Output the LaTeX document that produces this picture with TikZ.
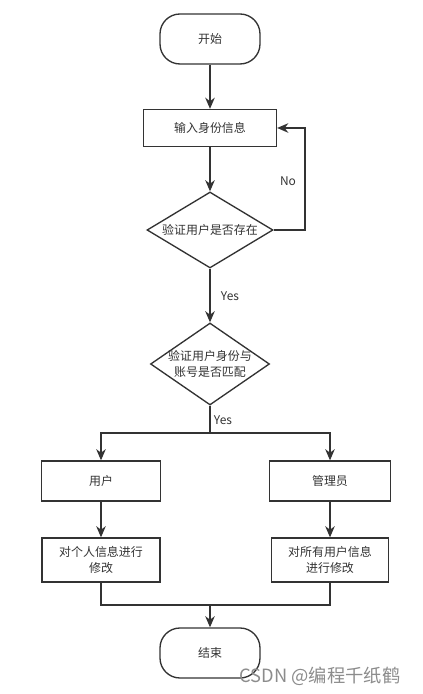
\documentclass[tikz,border=0pt]{standalone}
\usepackage{fontspec}
\newfontfamily\cjk{Noto Sans CJK SC}
\usetikzlibrary{shapes.geometric,arrows.meta}
\definecolor{linegray}{HTML}{333333}
\tikzset{
  terminal/.style={draw=linegray,rounded corners=0.5cm,minimum width=2.5cm,minimum height=1.25cm},
  process/.style={draw=linegray,minimum height=0.95cm,align=center,inner sep=1pt},
  decision/.style={draw=linegray,diamond,aspect=1.66,inner sep=0pt,align=center},
}
\begin{document}
\begin{tikzpicture}[>={Stealth[length=2.8mm,width=2.4mm]},line width=0.95pt,font=\cjk\fontsize{8.5}{11}\selectfont,text=black!80]
  \useasboundingbox[fill=white] (0,0) rectangle (10.575,17.35);

  % 节点
  \node[terminal] (start) at (5.25,16.375) {开始};
  \node[process,minimum width=3.325cm,minimum height=0.925cm] (input) at (5.25,14.15) {输入身份信息};
  \node[decision,minimum width=3.15cm,minimum height=1.9cm] (check) at (5.25,11.6) {验证用户是否存在};
  \node[decision,inner sep=-4pt,minimum width=2.975cm,minimum height=2.05cm] (match) at (5.25,8.25) {验证用户身份与\\账号是否匹配};
  \node[process,minimum width=2.975cm,minimum height=1.0cm] (user) at (2.525,5.325) {用户};
  \node[process,minimum width=3.025cm,minimum height=1.0cm] (admin) at (8.25,5.325) {管理员};
  \node[process,minimum width=2.95cm,minimum height=1.1cm] (selfedit) at (2.525,3.35) {对个人信息进行\\修改};
  \node[process,minimum width=2.925cm,minimum height=1.1cm] (alledit) at (8.25,3.35) {对所有用户信息\\进行修改};
  \node[terminal] (stop) at (5.25,1.025) {结束};

  % 转折点
  \coordinate (noturn) at (7.625,11.6);
  \coordinate (split) at (5.25,6.525);
  \coordinate (merge) at (5.25,2.225);

  % 连线
  \draw[->,linegray] (start) -- (input);
  \draw[->,linegray] (input) -- (check);
  \draw[->,linegray] (check.east) -- (noturn) |- (input.east);
  \draw[->,linegray] (check) -- (match);
  \draw[linegray] (match.south) -- (split);
  \draw[->,linegray] (split) -| (user.north);
  \draw[->,linegray] (split) -| (admin.north);
  \draw[->,linegray] (user) -- (selfedit);
  \draw[->,linegray] (admin) -- (alledit);
  \draw[linegray] (selfedit.south) |- (merge);
  \draw[linegray] (alledit.south) |- (merge);
  \draw[->,linegray] (merge) -- (stop);

  % 标注
  \node (nolabel) at (7.2,12.825) {No};
  \node (yeslabel) at (5.75,9.95) {Yes};
  \node (yeslabel2) at (5.575,6.85) {Yes};
  \node[text=black!45,font=\cjk\fontsize{13}{15}\selectfont] (mark) at (8.0,0.45) {CSDN @编程千纸鹤};
\end{tikzpicture}
\end{document}
